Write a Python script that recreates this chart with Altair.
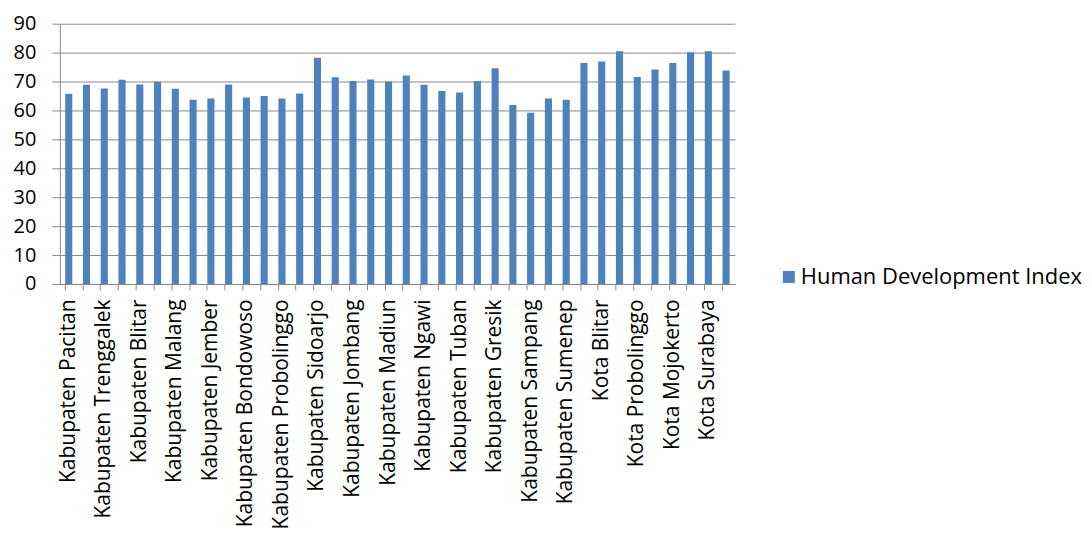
import altair as alt
import pandas as pd

regions = [
    "Kabupaten Pacitan", "Kabupaten Ponorogo", "Kabupaten Trenggalek", "Kabupaten Tulungagung",
    "Kabupaten Blitar", "Kabupaten Kediri", "Kabupaten Malang", "Kabupaten Lumajang",
    "Kabupaten Jember", "Kabupaten Banyuwangi", "Kabupaten Bondowoso", "Kabupaten Situbondo",
    "Kabupaten Probolinggo", "Kabupaten Pasuruan", "Kabupaten Sidoarjo", "Kabupaten Mojokerto",
    "Kabupaten Jombang", "Kabupaten Nganjuk", "Kabupaten Madiun", "Kabupaten Magetan",
    "Kabupaten Ngawi", "Kabupaten Bojonegoro", "Kabupaten Tuban", "Kabupaten Lamongan",
    "Kabupaten Gresik", "Kabupaten Bangkalan", "Kabupaten Sampang", "Kabupaten Pamekasan",
    "Kabupaten Sumenep", "Kota Kediri", "Kota Blitar", "Kota Malang",
    "Kota Probolinggo", "Kota Pasuruan", "Kota Mojokerto", "Kota Madiun",
    "Kota Surabaya", "Kota Batu",
]
hdi = [
    65.8, 68.9, 67.6, 70.6, 69.0, 69.9, 67.5, 63.7, 64.1, 69.0,
    64.5, 65.0, 64.1, 65.9, 78.2, 71.5, 70.2, 70.7, 70.0, 72.1,
    68.9, 66.7, 66.2, 70.2, 74.6, 61.9, 59.2, 64.1, 63.7, 76.4,
    76.9, 80.5, 71.6, 74.2, 76.4, 80.1, 80.5, 73.8,
]
series_name = "Human Development Index"
y_ticks = [0, 10, 20, 30, 40, 50, 60, 70, 80, 90]
shown_labels = regions[::2]

df = pd.DataFrame({"region": regions, "hdi": hdi, "series": [series_name] * len(regions)})

FONT = "Open Sans"
GRAY = "#888888"
BLUE = "#4F81BD"

x_scale = alt.Scale(paddingInner=0.6, paddingOuter=0.3)
y_scale = alt.Scale(domain=[0, 90], nice=False)

y_axis = alt.Axis(
    title=None, values=y_ticks, grid=True, gridColor=GRAY, gridWidth=1,
    domain=True, domainColor=GRAY, ticks=True, tickColor=GRAY, tickSize=8,
    labelFont=FONT, labelFontSize=20, labelColor="#000000", labelPadding=16,
)

color = alt.Color(
    "series:N",
    scale=alt.Scale(domain=[series_name], range=[BLUE]),
    legend=alt.Legend(
        title=None, orient="none", legendX=720, legendY=243, padding=0,
        symbolType="square", symbolSize=144, symbolStrokeWidth=0,
        labelFont=FONT, labelFontSize=22, labelColor="#000000", labelOffset=1,
        labelLimit=0,
    ),
)

bars_labels = alt.Chart(df).mark_bar().encode(
    x=alt.X("region:N", sort=None, scale=x_scale,
            axis=alt.Axis(title=None, orient="bottom", values=shown_labels, ticks=False,
                          tickSize=0, domain=False, labelAngle=-90, labelFont=FONT,
                          labelFontSize=21, labelColor="#000000", labelPadding=15,
                          labelOverlap=False, labelLimit=0, grid=False)),
    y=alt.Y("hdi:Q", scale=y_scale, axis=y_axis),
    color=color,
)

bars_ticks = alt.Chart(df).mark_bar(opacity=0).encode(
    x=alt.X("region:N", sort=None, scale=x_scale,
            axis=alt.Axis(title=None, orient="bottom", labels=False, ticks=True, tickSize=6,
                          tickColor=GRAY, bandPosition=0, domain=True,
                          domainColor=GRAY, grid=False)),
    y=alt.Y("hdi:Q", scale=y_scale, axis=y_axis),
)

chart = alt.layer(bars_ticks, bars_labels).resolve_axis(x="independent").properties(
    width=677, height=261,
    autosize=alt.AutoSizeParams(type="none"),
    padding={"left": 52, "top": 15, "right": 350, "bottom": 251},
).configure_view(stroke=None)

chart.save("out.html", embed_options={"renderer": "svg", "actions": False})
